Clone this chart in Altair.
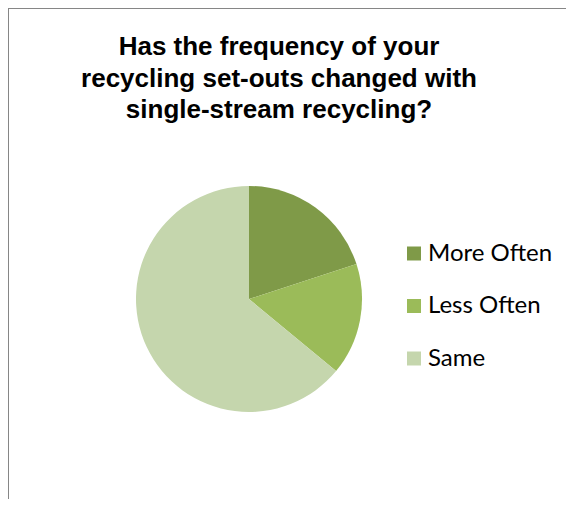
import altair as alt
import pandas as pd

categories = ["More Often", "Less Often", "Same"]
values = [20, 16, 64]
colors = ["#7f9a48", "#9bbb59", "#c5d6ad"]
title_lines = ["Has the frequency of your", "recycling set-outs changed with", "single-stream recycling?"]

df = pd.DataFrame({"category": categories, "value": values, "order": list(range(len(categories)))})

pie = alt.Chart(df).mark_arc(radius=113, stroke=None).encode(
    theta=alt.Theta("value:Q", stack=True),
    order=alt.Order("order:Q"),
    color=alt.Color(
        "category:N",
        scale=alt.Scale(domain=categories, range=colors),
        legend=alt.Legend(
            title=None,
            orient="none",
            legendX=394,
            legendY=233.5,
            symbolType="square",
            symbolSize=196,
            symbolStrokeWidth=0,
            labelFontSize=24,
            labelFont="Lato",
            labelColor="#000000",
            rowPadding=28.5,
            labelOffset=2,
        ),
    ),
    x=alt.value(241),
    y=alt.value(291),
)

title = alt.Chart(alt.Data(values=[{"t": 1}])).mark_text(
    text=title_lines,
    font="Liberation Sans",
    fontWeight="bold",
    fontSize=26,
    lineHeight=31.5,
    align="center",
    baseline="top",
    color="#000000",
).encode(x=alt.value(271), y=alt.value(26))

border = alt.Chart(alt.Data(values=[{"t": 1}]))
left_line = border.mark_rule(color="#868686", strokeWidth=2).encode(
    x=alt.value(0), y=alt.value(0), y2=alt.value(491)
)
top_line = border.mark_rule(color="#868686", strokeWidth=2).encode(
    x=alt.value(0), x2=alt.value(558), y=alt.value(0)
)

chart = alt.layer(left_line, top_line, pie, title).properties(
    width=558,
    height=491,
    autosize=alt.AutoSizeParams(type="none"),
    padding=0,
).configure_view(stroke=None)

chart.save("out.html", embed_options={"renderer": "svg", "actions": False})
